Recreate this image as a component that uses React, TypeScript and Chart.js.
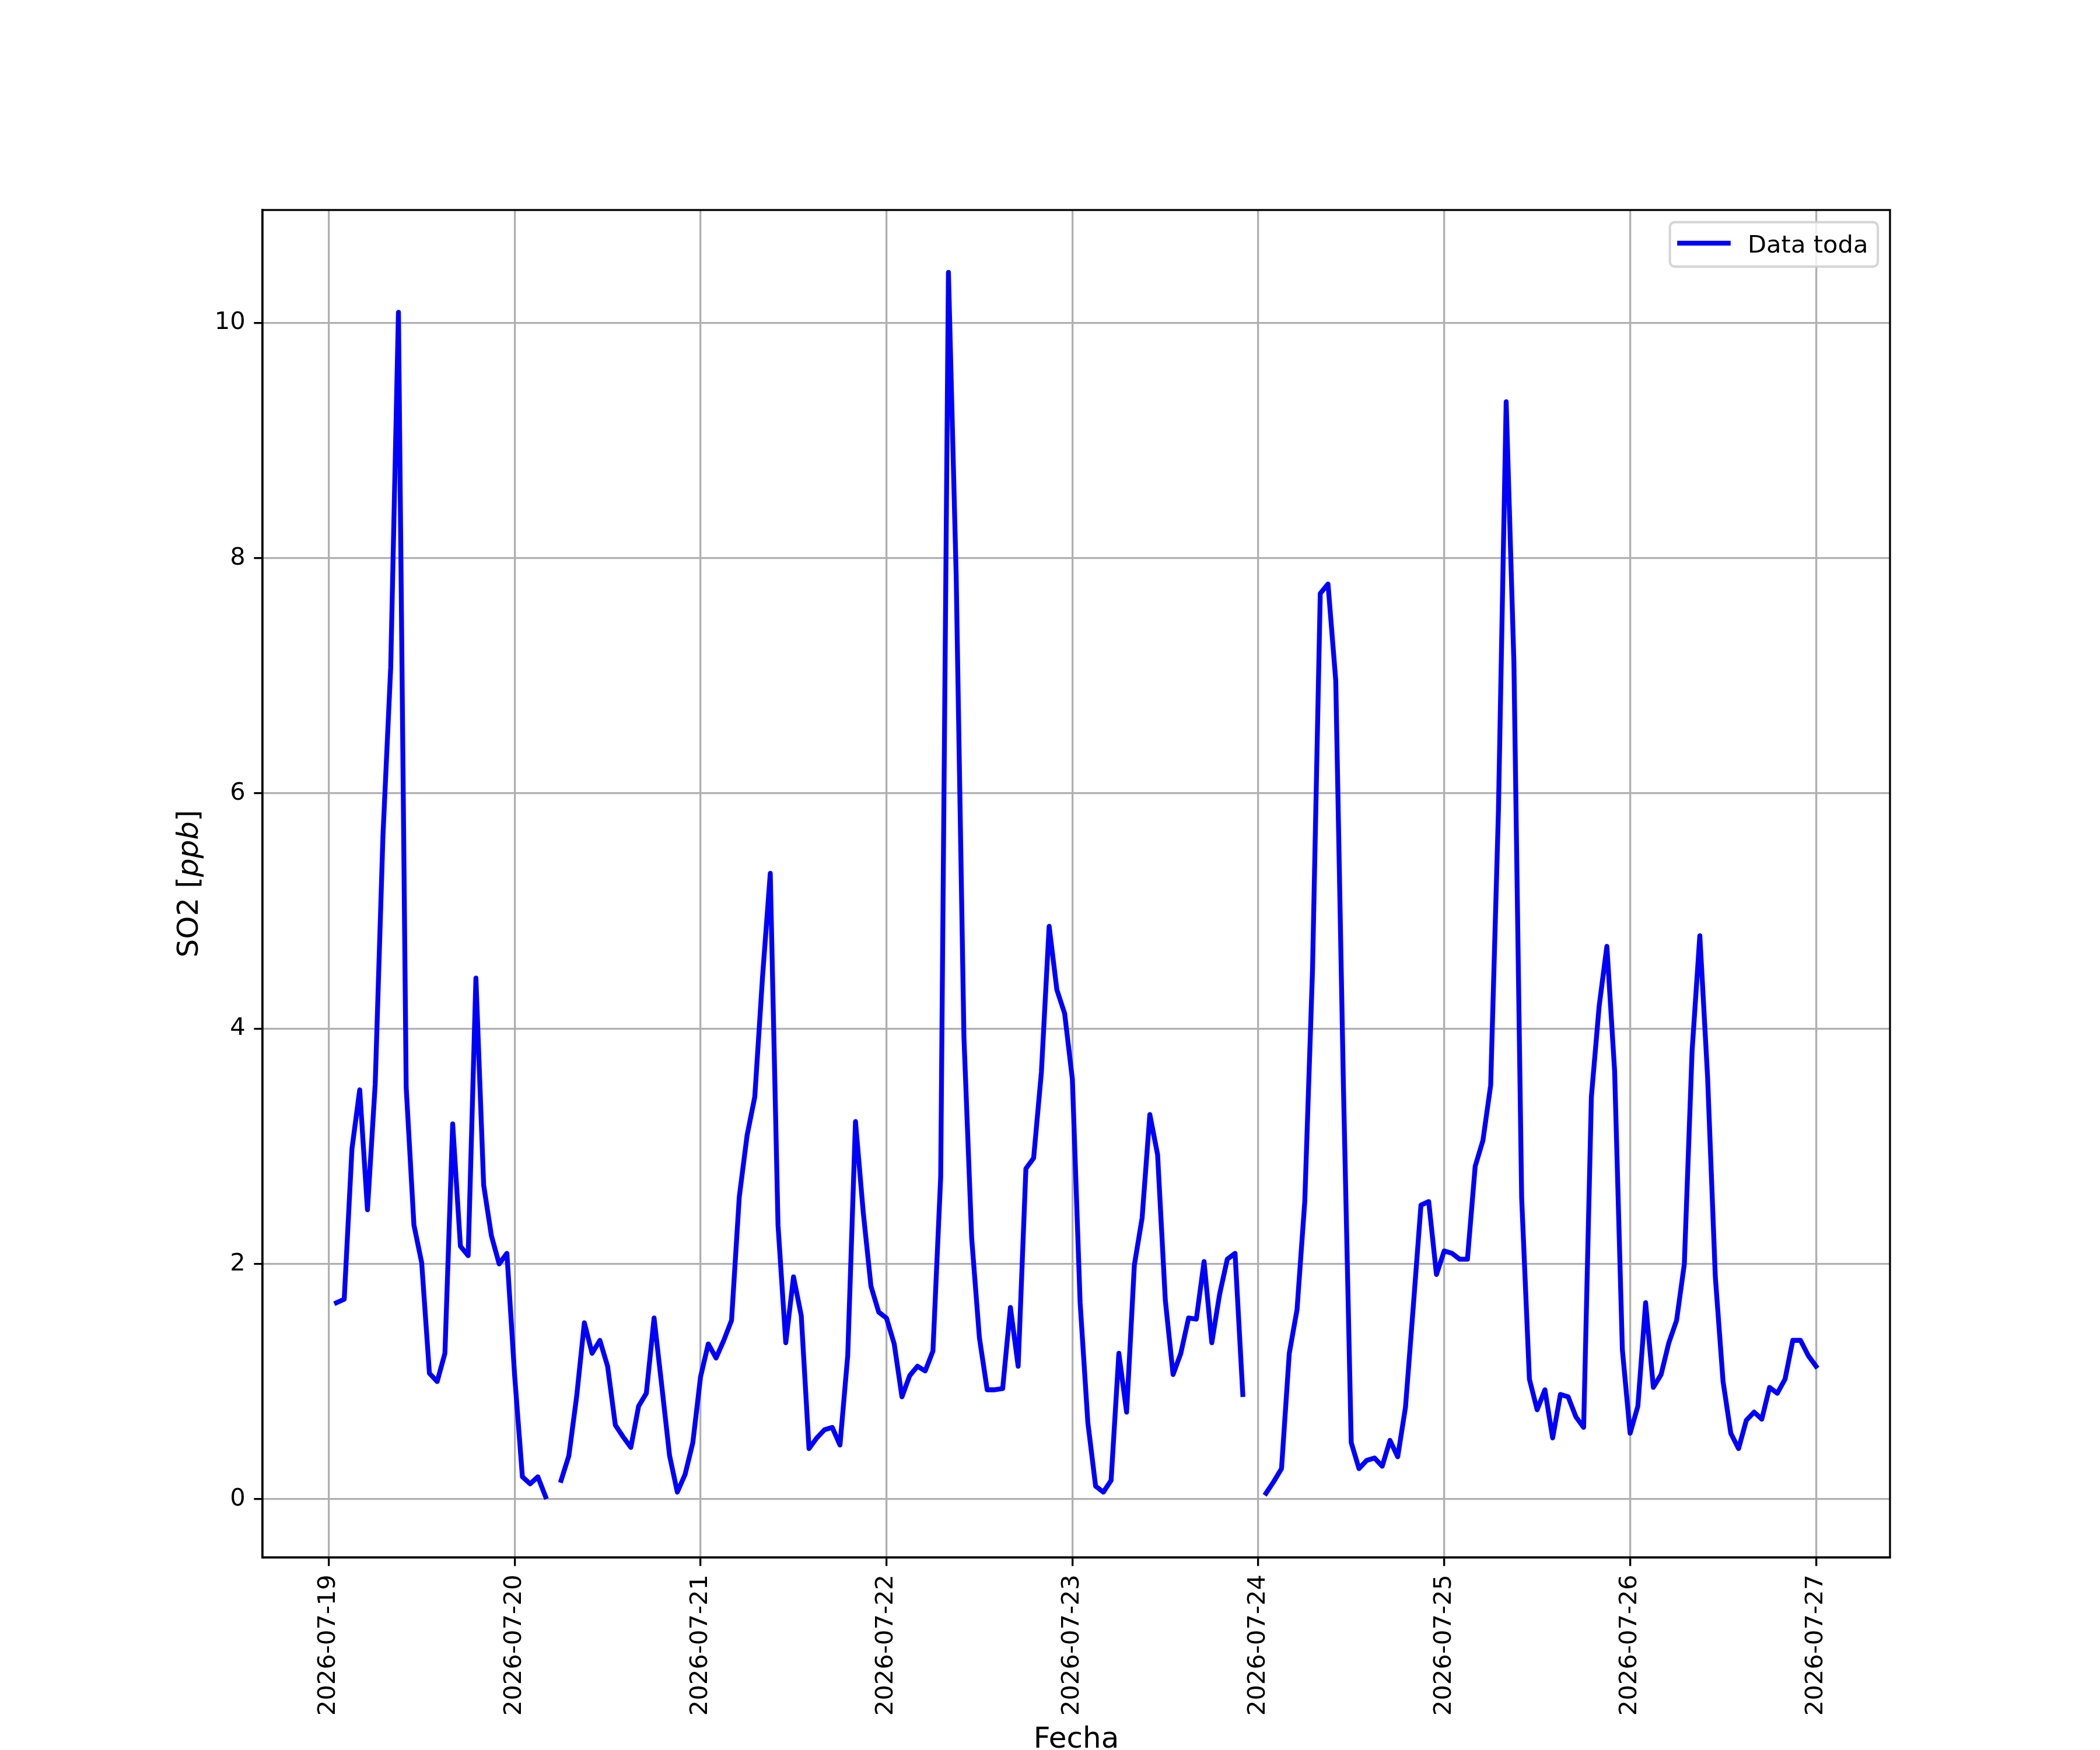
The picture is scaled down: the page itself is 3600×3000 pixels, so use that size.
import React, { useEffect, useRef } from 'react';
import { Chart, registerables } from 'chart.js';

Chart.register(...registerables);

// ---- data ----
const startHour = 1; // first sample: 2026-07-19 01:00, hourly samples
const so2Values: (number | null)[] = [
  1.67, 1.70, 2.98, 3.48, 2.46, 3.53, 5.64, 7.07, 10.09, 3.50,
  2.33, 2.01, 1.07, 1.00, 1.24, 3.19, 2.15, 2.07, 4.43, 2.67,
  2.24, 2.00, 2.09, 1.05, 0.19, 0.13, 0.19, 0.02, null, 0.16,
  0.37, 0.87, 1.50, 1.24, 1.35, 1.13, 0.63, 0.53, 0.44, 0.79,
  0.90, 1.54, 0.96, 0.37, 0.06, 0.21, 0.48, 1.04, 1.32, 1.20,
  1.35, 1.52, 2.57, 3.09, 3.42, 4.44, 5.32, 2.33, 1.33, 1.89,
  1.56, 0.43, 0.52, 0.59, 0.61, 0.46, 1.22, 3.21, 2.44, 1.81,
  1.59, 1.54, 1.32, 0.87, 1.05, 1.13, 1.09, 1.26, 2.74, 10.43,
  7.85, 3.93, 2.22, 1.37, 0.93, 0.93, 0.94, 1.63, 1.13, 2.81,
  2.90, 3.63, 4.87, 4.33, 4.13, 3.57, 1.67, 0.65, 0.11, 0.06,
  0.16, 1.24, 0.74, 1.99, 2.39, 3.27, 2.93, 1.69, 1.06, 1.24,
  1.54, 1.53, 2.02, 1.33, 1.74, 2.04, 2.09, 0.89, null, null,
  0.05, 0.15, 0.26, 1.24, 1.61, 2.53, 4.50, 7.70, 7.78, 6.96,
  3.48, 0.48, 0.26, 0.33, 0.35, 0.28, 0.50, 0.36, 0.78, 1.63,
  2.50, 2.53, 1.91, 2.11, 2.09, 2.04, 2.04, 2.83, 3.05, 3.52,
  5.85, 9.33, 7.11, 2.56, 1.02, 0.76, 0.93, 0.52, 0.89, 0.87,
  0.70, 0.61, 3.42, 4.19, 4.70, 3.64, 1.27, 0.56, 0.79, 1.67,
  0.95, 1.06, 1.33, 1.52, 2.00, 3.81, 4.79, 3.59, 1.89, 1.00,
  0.56, 0.43, 0.67, 0.74, 0.68, 0.95, 0.90, 1.02, 1.35, 1.35,
  1.22, 1.13,
];
const xTickHours = [0, 24, 48, 72, 96, 120, 144, 168, 192];
const xTickLabels = [
  '2026-07-19', '2026-07-20', '2026-07-21', '2026-07-22', '2026-07-23',
  '2026-07-24', '2026-07-25', '2026-07-26', '2026-07-27',
];
const yTicks = [0, 2, 4, 6, 8, 10];
const seriesLabel = 'Data toda';
const xTitle = 'Fecha';
const yTitleParts = [
  { text: 'SO2 [', italic: false },
  { text: 'ppb', italic: true },
  { text: ']', italic: false },
];

// ---- styles ----
const PT = 300 / 72;
const FONT = '"DejaVu Sans"';
const TICK_FS = 10 * PT;
const LABEL_FS = 12 * PT;
const LINE_W = 2 * PT;
const W = 3600;
const H = 3000;

const decorPlugin = {
  id: 'decor',
  afterDatasetsDraw(chart: any) {
    const { ctx, chartArea: a } = chart;
    ctx.save();
    // spines
    ctx.strokeStyle = '#000';
    ctx.lineWidth = 0.8 * PT;
    ctx.strokeRect(a.left, a.top, a.right - a.left, a.bottom - a.top);

    // legend
    const fs = TICK_FS;
    ctx.font = `${fs}px ${FONT}`;
    const tw = ctx.measureText(seriesLabel).width;
    const pad = 0.4 * fs;
    const hl = 2 * fs;
    const htp = 0.8 * fs;
    const bap = 0.5 * fs;
    const bw = pad + hl + htp + tw + pad;
    const bh = 2 * pad + fs * 1.03;
    const right = a.right - bap;
    const top = a.top + bap;
    const left = right - bw;
    ctx.beginPath();
    (ctx as any).roundRect(left, top, bw, bh, 0.2 * fs);
    ctx.fillStyle = 'rgba(255,255,255,0.8)';
    ctx.fill();
    ctx.lineWidth = 1 * PT;
    ctx.strokeStyle = 'rgba(204,204,204,0.8)';
    ctx.stroke();
    const ly = top + 36;
    ctx.beginPath();
    ctx.moveTo(left + pad, ly);
    ctx.lineTo(left + pad + hl, ly);
    ctx.strokeStyle = '#0000ff';
    ctx.lineWidth = LINE_W;
    ctx.lineCap = 'square';
    ctx.stroke();
    ctx.fillStyle = '#000';
    ctx.textAlign = 'left';
    ctx.textBaseline = 'alphabetic';
    ctx.fillText(seriesLabel, left + pad + hl + htp, top + 52);
    ctx.restore();
  },
  afterDraw(chart: any) {
    const { ctx, chartArea: a } = chart;
    ctx.save();
    ctx.fillStyle = '#000';
    ctx.textBaseline = 'alphabetic';
    // x title
    ctx.font = `${LABEL_FS}px ${FONT}`;
    ctx.textAlign = 'center';
    ctx.fillText(xTitle, (a.left + a.right) / 2, a.bottom + 326);
    // y title (rotated, mixed italic)
    const fonts = yTitleParts.map((p) => `${p.italic ? 'italic ' : ''}${LABEL_FS}px ${FONT}`);
    const widths = yTitleParts.map((p, i) => {
      ctx.font = fonts[i];
      return ctx.measureText(p.text).width;
    });
    const total = widths.reduce((s, v) => s + v, 0);
    ctx.translate(a.left - 111, (a.top + a.bottom) / 2);
    ctx.rotate(-Math.PI / 2);
    ctx.textAlign = 'left';
    let x = -total / 2;
    yTitleParts.forEach((p, i) => {
      ctx.font = fonts[i];
      ctx.fillText(p.text, x, 0);
      x += widths[i];
    });
    ctx.restore();
  },
};

export default function App() {
  const ref = useRef<HTMLCanvasElement | null>(null);

  useEffect(() => {
    document.body.style.margin = '0';
    const canvas = ref.current;
    if (!canvas) return;
    const points = so2Values.map((v, i) => ({ x: startHour + i, y: v }));
    const chart = new Chart(canvas, {
      type: 'line',
      data: {
        datasets: [
          {
            label: seriesLabel,
            data: points as any,
            borderColor: '#0000ff',
            backgroundColor: '#0000ff',
            borderWidth: LINE_W,
            borderCapStyle: 'square',
            borderJoinStyle: 'round',
            pointRadius: 0,
            pointHoverRadius: 0,
            tension: 0,
            spanGaps: false,
            fill: false,
          },
        ],
      },
      plugins: [decorPlugin],
      options: {
        animation: false,
        responsive: false,
        devicePixelRatio: 1,
        events: [],
        layout: { padding: { top: 360, right: 360, left: 0, bottom: 0 } },
        plugins: {
          legend: { display: false },
          tooltip: { enabled: false },
          title: { display: false },
        },
        scales: {
          x: {
            type: 'linear',
            min: -8.55,
            max: 201.55,
            afterBuildTicks: (axis: any) => {
              axis.ticks = xTickHours.map((v) => ({ value: v }));
            },
            afterFit: (scale: any) => {
              scale.height = 330;
              scale.paddingLeft = 0;
              scale.paddingRight = 0;
            },
            ticks: {
              autoSkip: false,
              minRotation: 90,
              maxRotation: 90,
              padding: 3.5 * PT,
              color: '#000',
              font: { family: FONT, size: TICK_FS },
              callback: (value: any) => {
                const i = xTickHours.indexOf(Number(value));
                return i >= 0 ? xTickLabels[i] : '';
              },
            },
            grid: {
              color: '#b0b0b0',
              lineWidth: 0.8 * PT,
              drawTicks: true,
              tickLength: 3.5 * PT,
              tickColor: '#000',
              tickWidth: 0.8 * PT,
            },
            border: { display: true, color: '#000', width: 0.8 * PT },
          },
          y: {
            type: 'linear',
            min: -0.496,
            max: 10.96,
            afterBuildTicks: (axis: any) => {
              axis.ticks = yTicks.map((v) => ({ value: v }));
            },
            afterFit: (scale: any) => {
              scale.width = 450;
              scale.paddingTop = 0;
              scale.paddingBottom = 0;
            },
            ticks: {
              autoSkip: false,
              padding: 3.5 * PT,
              color: '#000',
              font: { family: FONT, size: TICK_FS },
              callback: (value: any) => String(value),
            },
            grid: {
              color: '#b0b0b0',
              lineWidth: 0.8 * PT,
              drawTicks: true,
              tickLength: 3.5 * PT,
              tickColor: '#000',
              tickWidth: 0.8 * PT,
            },
            border: { display: true, color: '#000', width: 0.8 * PT },
          },
        },
      } as any,
    });
    return () => chart.destroy();
  }, []);

  return (
    <div style={{ position: 'absolute', left: 0, top: 0, width: W, height: H, background: '#fff' }}>
      <canvas ref={ref} width={W} height={H} style={{ width: W, height: H, display: 'block' }} />
    </div>
  );
}
